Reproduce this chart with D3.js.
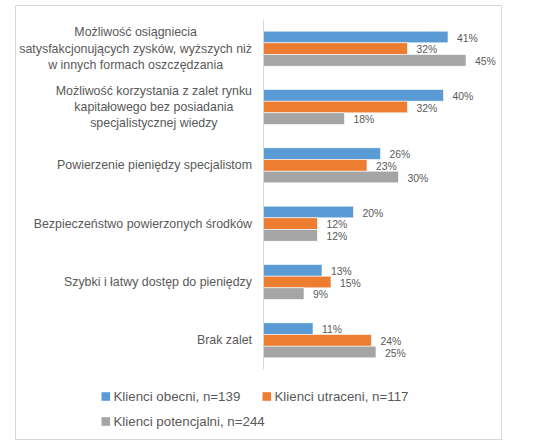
<!DOCTYPE html>
<html><head><meta charset="utf-8">
<script src="https://cdn.jsdelivr.net/npm/d3@7/dist/d3.min.js"></script>
<style>body{margin:0;background:#fff}svg{display:block}text{font-family:"Liberation Sans",Arial,sans-serif;fill:#595959}</style>
</head><body><svg id="c" width="540" height="447"></svg>
<script>
const categories = [
  ["Możliwość osiągniecia","satysfakcjonujących zysków, wyższych niż","w innych formach oszczędzania"],
  ["Możliwość korzystania z zalet rynku","kapitałowego bez posiadania","specjalistycznej wiedzy"],
  ["Powierzenie pieniędzy specjalistom"],
  ["Bezpieczeństwo powierzonych środków"],
  ["Szybki i łatwy dostęp do pieniędzy"],
  ["Brak zalet"]
];
const seriesNames = ["Klienci obecni, n=139","Klienci utraceni, n=117","Klienci potencjalni, n=244"];
const obecni = [41,40,26,20,13,11];
const utraceni = [32,32,23,12,15,24];
const potencjalni = [45,18,30,12,9,25];
const colors = ["#5B9BD5","#ED7D31","#A5A5A5"];
const series = [obecni, utraceni, potencjalni];

const svg = d3.select("#c");
svg.append("rect").attr("x",15.5).attr("y",5.5).attr("width",486).attr("height",434)
  .attr("fill","#fff").attr("stroke","#D9D9D9").attr("stroke-width",1);

const axisX = 263.5;
const y0 = d3.scaleBand().domain(d3.range(categories.length)).range([19.5,369.5]).paddingInner(0.4).paddingOuter(0.2);
const y1 = d3.scaleBand().domain([0,1,2]).range([0,y0.bandwidth()]);
const x = d3.scaleLinear().domain([0,50]).range([axisX, axisX+225]);

const g = svg.append("g");
categories.forEach((c,i)=>{
  series.forEach((s,j)=>{
    const v = s[i];
    const yy = y0(i)+y1(j);
    g.append("rect").attr("x",x(0)).attr("y",yy).attr("width",x(v)-x(0)).attr("height",y1.bandwidth())
      .attr("fill",colors[j]).attr("stroke","#fff").attr("stroke-width",0.6);
    g.append("text").attr("x",x(v)+9).attr("y",yy+y1.bandwidth()/2+1)
      .attr("dominant-baseline","central").attr("font-size","10.4px").text(v+"%");
  });
});

svg.append("line").attr("x1",axisX).attr("x2",axisX).attr("y1",19.5).attr("y2",369.5)
  .attr("stroke","#D9D9D9").attr("stroke-width",1);

// category labels
const yAxis = d3.axisLeft(y0).tickSize(0).tickFormat("");
const ax = svg.append("g").attr("transform",`translate(${axisX},0)`).call(yAxis);
ax.select(".domain").remove();
const lh = 16.4, rightEdge = 252;
categories.forEach((lines,i)=>{
  const cy = y0(i)+y0.bandwidth()/2;
  const t = svg.append("text").attr("font-size","12.4px").attr("text-anchor","middle");
  lines.forEach((l,k)=>{
    t.append("tspan").attr("x",0).attr("y",cy+(k-(lines.length-1)/2)*lh).attr("dominant-baseline","central").text(l);
  });
  let maxW = 0;
  t.selectAll("tspan").each(function(){maxW=Math.max(maxW,this.getComputedTextLength());});
  t.selectAll("tspan").attr("x",rightEdge-maxW/2);
});

// legend
const legPos = [[101.5,396.5],[262.5,396.5],[101.5,421.5]];
seriesNames.forEach((n,j)=>{
  const [lx,ly] = legPos[j];
  svg.append("rect").attr("x",lx).attr("y",ly-4.3).attr("width",8.6).attr("height",8.6).attr("fill",colors[j]);
  svg.append("text").attr("x",lx+12).attr("y",ly).attr("dominant-baseline","central").attr("font-size","13.3px").text(n);
});
</script></body></html>
